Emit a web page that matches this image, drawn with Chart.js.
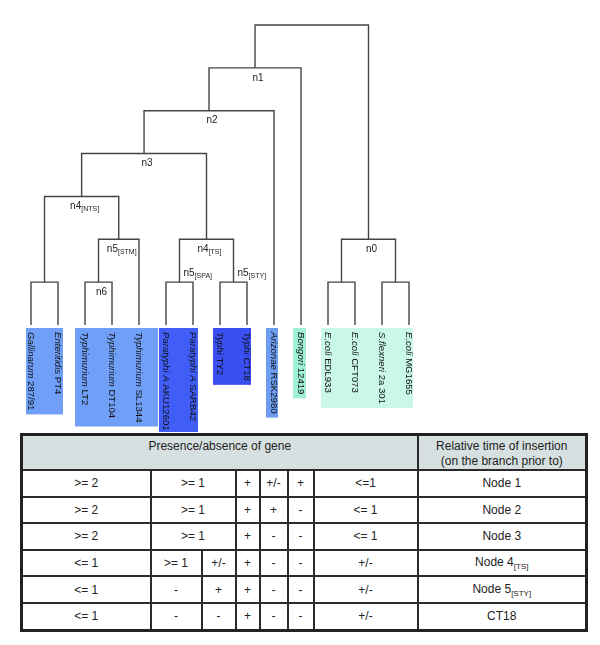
<!DOCTYPE html>
<html lang="en">
<head>
<meta charset="UTF-8">
<title>Salmonella tree and gene table</title>
<script src="https://cdn.jsdelivr.net/npm/chart.js"></script>
<style>
    body {
        margin: 0;
        background: #ffffff;
        font-family: "Liberation Sans", Arial, sans-serif;
    }
    #wrap { position: relative; width: 600px; height: 645px; }
    #treeCanvas { position: absolute; left: 0; top: 0; }
    table {
        position: absolute; left: 20px; top: 433px; width: 565px;
        border-collapse: collapse; table-layout: fixed;
        border: 3px solid #222; font-size: 12px; color: #222;
    }
    td, th { border: 2px solid #2a2a2a; text-align: center; padding: 0; height: 24.6px; font-weight: normal; }
    th { background: #d6e0e1; height: 34px; line-height: 15px; vertical-align: top; padding-top: 3px; box-sizing: border-box; }
    sub { font-size: 8px; vertical-align: -3px; }
</style>
</head>
<body>
<div id="wrap">
    <canvas id="treeCanvas" width="600" height="432"></canvas>
    <table id="geneTable"></table>
</div>
<script>
    // leaves of the tree, left to right: [italic part, roman part]
    const leafNames = [
        ["Gallinarum", " 287/91"], ["Enteritidis", " PT4"],
        ["Typhimurium", " LT2"], ["Typhimurium", " DT104"], ["Typhimurium", " SL1344"],
        ["Paratyphi A", " AKU12601"], ["Paratyphi A", " SARB42"],
        ["Typhi", " TY2"], ["Typhi", " CT18"],
        ["Arizonae", " RSK2980"], ["Bongori", " 12419"],
        ["E.coli", " EDL933"], ["E.coli", " CFT073"], ["S.flexneri", " 2a 301"], ["E.coli", " MG1655"]
    ];

    // merges (index < 15 = leaf, >= 15 = earlier merge)
    const mergeLeft   = [0, 2, 16, 15, 5, 7, 19, 18, 22, 23, 11, 13, 25, 24];
    const mergeRight  = [1, 3, 4, 17, 6, 8, 20, 21, 9, 10, 12, 14, 26, 27];
    const mergeHeight = [1, 1, 2, 3, 1, 1, 2, 4, 5, 6, 1, 1, 2, 7];
    const nodeLabel   = ["", "n6", "n5", "n4", "n5", "n5", "n4", "n3", "n2", "n1", "", "", "n0", ""];
    const nodeSub     = ["", "", "STM", "NTS", "SPA", "STY", "TS", "", "", "", "", "", "", ""];
    const labelAbove  = [4, 5];

    // coloured groups of leaves
    const groupFirst = [0, 2, 5, 7, 9, 10, 11];
    const groupLast  = [1, 4, 6, 8, 9, 10, 14];
    const groupColor = ["#6f9ff6", "#6f9ff6", "#405ef7", "#3a4ff2", "#6c9df0", "#9ff0d6", "#c9f7ea"];
    const groupPadL  = [5, 10, 7, 7, 8, 8, 7];
    const groupPadR  = [5, 19, 5, 4, 4, 5, 4];

    // table
    const tableHeader = ["Presence/absence of gene", "Relative time of insertion<br>(on the branch prior to)"];
    const tableRows = [
        [">= 2", ">= 1", "+", "+/-", "+", "<=1", "Node 1"],
        [">= 2", ">= 1", "+", "+", "-", "<= 1", "Node 2"],
        [">= 2", ">= 1", "+", "-", "-", "<= 1", "Node 3"],
        ["<= 1", ">= 1", "+/-", "+", "-", "-", "+/-", "Node 4<sub>[TS]</sub>"],
        ["<= 1", "-", "+", "+", "-", "-", "+/-", "Node 5<sub>[STY]</sub>"],
        ["<= 1", "-", "-", "+", "-", "-", "+/-", "CT18"]
    ];
    const colWidths = [129, 51, 34, 24, 28, 26, 104, 169];

    const nLeaf = leafNames.length;
    const posX = leafNames.map((_, i) => i);
    const posH = leafNames.map(() => 0);
    mergeLeft.forEach((l, k) => {
        posX.push((posX[l] + posX[mergeRight[k]]) / 2);
        posH.push(mergeHeight[k]);
    });

    const datasets = mergeLeft.map((l, k) => {
        const r = mergeRight[k];
        return {
            data: [
                { x: posX[l], y: posH[l] },
                { x: posX[l], y: mergeHeight[k] },
                { x: posX[r], y: mergeHeight[k] },
                { x: posX[r], y: posH[r] }
            ],
            showLine: true,
            borderColor: "#444444",
            borderWidth: 1.4,
            pointRadius: 0,
            tension: 0
        };
    });

    const labelPlugin = {
        id: "labelPlugin",
        afterDatasetsDraw(chart) {
            const ctx = chart.ctx;
            const xs = chart.scales.x, ys = chart.scales.y;
            const y0 = ys.getPixelForValue(0);
            const textTop = y0 + 7;
            const fs = 9.6;
            ctx.save();

            // leaf label widths
            const widths = leafNames.map(n => {
                ctx.font = "italic " + fs + "px 'Liberation Sans', Arial, sans-serif";
                const a = ctx.measureText(n[0]).width;
                ctx.font = fs + "px 'Liberation Sans', Arial, sans-serif";
                return a + ctx.measureText(n[1]).width;
            });

            // boxes
            groupFirst.forEach((f, g) => {
                const last = groupLast[g];
                const left = xs.getPixelForValue(f) - groupPadL[g];
                const right = xs.getPixelForValue(last) + groupPadR[g];
                let maxW = 0;
                for (let i = f; i <= last; i++) maxW = Math.max(maxW, widths[i]);
                ctx.fillStyle = groupColor[g];
                ctx.fillRect(left, y0 + 3, right - left, textTop + maxW + 4 - (y0 + 3));
            });

            // leaf labels, rotated
            ctx.fillStyle = "#111";
            ctx.textBaseline = "middle";
            ctx.textAlign = "left";
            leafNames.forEach((n, i) => {
                ctx.save();
                ctx.translate(xs.getPixelForValue(i), textTop);
                ctx.rotate(Math.PI / 2);
                ctx.font = "italic " + fs + "px 'Liberation Sans', Arial, sans-serif";
                ctx.fillText(n[0], 0, 0);
                const w = ctx.measureText(n[0]).width;
                ctx.font = fs + "px 'Liberation Sans', Arial, sans-serif";
                ctx.fillText(n[1], w, 0);
                ctx.restore();
            });

            // node labels
            nodeLabel.forEach((lab, k) => {
                if (!lab) return;
                const px = xs.getPixelForValue(posX[nLeaf + k]);
                const py = ys.getPixelForValue(mergeHeight[k]);
                ctx.font = "10px 'Liberation Sans', Arial, sans-serif";
                const w1 = ctx.measureText(lab).width;
                ctx.font = "7px 'Liberation Sans', Arial, sans-serif";
                const sub = nodeSub[k] ? "[" + nodeSub[k] + "]" : "";
                const w2 = ctx.measureText(sub).width;
                let sx, sy;
                if (labelAbove.includes(k)) {
                    sx = px + 4;
                    sy = py - 9;
                } else {
                    sx = px - (w1 + w2) / 2 + 3;
                    sy = py + 10;
                }
                ctx.fillStyle = "#222";
                ctx.font = "10px 'Liberation Sans', Arial, sans-serif";
                ctx.fillText(lab, sx, sy);
                if (sub) {
                    ctx.font = "7px 'Liberation Sans', Arial, sans-serif";
                    ctx.fillText(sub, sx + w1, sy + 3);
                }
            });
            ctx.restore();
        }
    };

    // y: level 0 at 325px, level 7 at 25px; x: leaf 0 at 31px, 27px apart
    new Chart(document.getElementById("treeCanvas"), {
        type: "scatter",
        data: { datasets: datasets },
        options: {
            responsive: false,
            animation: false,
            layout: { padding: 0 },
            plugins: { legend: { display: false }, tooltip: { enabled: false } },
            scales: {
                x: { type: "linear", display: false, min: -31 / 27, max: -31 / 27 + 600 / 27 },
                y: { type: "linear", display: false, min: 7 - 432 / (300 / 7) + 25 / (300 / 7), max: 7 + 25 / (300 / 7) }
            }
        },
        plugins: [labelPlugin]
    });

    // build the table
    const table = document.getElementById("geneTable");
    let html = "<colgroup>" + colWidths.map(w => '<col style="width:' + w + 'px">').join("") + "</colgroup>";
    html += '<tr><th colspan="7">' + tableHeader[0] + "</th><th>" + tableHeader[1] + "</th></tr>";
    tableRows.forEach(row => {
        html += "<tr>";
        row.forEach((c, j) => {
            const span = (row.length === 7 && j === 1) ? ' colspan="2"' : "";
            html += "<td" + span + ">" + c + "</td>";
        });
        html += "</tr>";
    });
    table.innerHTML = html;
</script>
</body>
</html>
